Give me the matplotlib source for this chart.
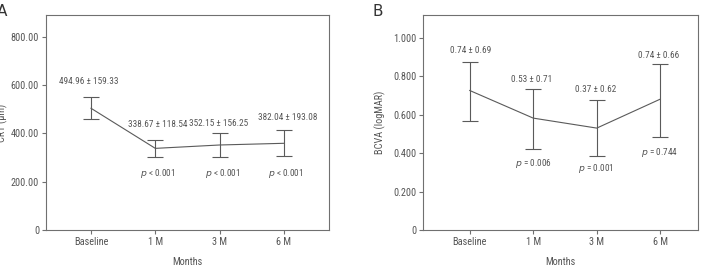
import numpy as np
import matplotlib
matplotlib.use("Agg")
import matplotlib.pyplot as plt
from matplotlib.ticker import FixedLocator, FixedFormatter

plt.rcParams['font.family'] = ['Liberation Sans Narrow', 'Roboto Condensed', 'DejaVu Sans']
plt.rcParams['mathtext.fontset'] = 'custom'
plt.rcParams['mathtext.it'] = 'Liberation Sans Narrow:italic'
plt.rcParams['mathtext.rm'] = 'Liberation Sans Narrow'

months = ['Baseline', '1 M', '3 M', '6 M']

# panel A - CRT
crt_mean = [504, 338, 352, 359]
crt_upper = [549, 372, 403, 413]
crt_lower = [458, 302, 302, 306]
crt_text = ['494.96 \u00b1 159.33', '338.67 \u00b1 118.54', '352.15 \u00b1 156.25', '382.04 \u00b1 193.08']
crt_p = ['', '< 0.001', '< 0.001', '< 0.001']

# panel B - BCVA
bcva_mean = [0.727, 0.583, 0.531, 0.682]
bcva_upper = [0.878, 0.736, 0.677, 0.866]
bcva_lower = [0.570, 0.423, 0.388, 0.487]
bcva_text = ['0.74 \u00b1 0.69', '0.53 \u00b1 0.71', '0.37 \u00b1 0.62', '0.74 \u00b1 0.66']
bcva_p = ['', '= 0.006', '= 0.001', '= 0.744']

GREY = '#5a5a5a'
TXT = '#555555'
FS = 7.4
FS_ANN = 6.7

fig = plt.figure(figsize=(7.11, 2.69), dpi=100)
axA = fig.add_axes([0.0647, 0.145, 0.398, 0.799])
axB = fig.add_axes([0.5954, 0.145, 0.386, 0.799])


def draw(ax, mean, upper, lower, xlim, ylim, ticks, ticklabels, ylabel, ylab_x,
         txt, txt_dx, txt_y, ptxt, p_dx, p_y):
    x = np.arange(len(months))
    mean = np.array(mean)
    yerr = [mean - np.array(lower), np.array(upper) - mean]
    ax.errorbar(x, mean, yerr=yerr, color=GREY, lw=0.8, elinewidth=0.8,
                capsize=5.8, capthick=0.8)
    ax.set_xlim(*xlim)
    ax.set_ylim(*ylim)
    ax.set_xticks(x)
    ax.set_xticklabels(months)
    ax.yaxis.set_major_locator(FixedLocator(ticks))
    ax.yaxis.set_major_formatter(FixedFormatter(ticklabels))
    for s in ax.spines.values():
        s.set_color('#707070')
        s.set_linewidth(0.8)
    ax.tick_params(colors='#707070', labelcolor=TXT, labelsize=FS, length=3, width=0.8, pad=2)
    ax.set_xlabel('Months', fontsize=FS, color=TXT, labelpad=7)
    ax.set_ylabel(ylabel, fontsize=FS, color=TXT)
    ax.yaxis.set_label_coords(ylab_x, 0.5)
    for i in range(len(months)):
        ax.text(x[i] + txt_dx[i], txt_y[i], txt[i], ha='center', va='center',
                fontsize=FS_ANN, color=TXT)
        if ptxt[i]:
            ax.text(x[i] + p_dx[i], p_y[i], r'$\it{p}$ ' + ptxt[i], ha='center',
                    va='center', fontsize=FS_ANN, color=TXT)


draw(axA, crt_mean, crt_upper, crt_lower, (-0.7, 3.7), (0, 890),
     [0, 200, 400, 600, 800], ['0', '200.00', '400.00', '600.00', '800.00'],
     'CRT (\u03bcm)', -0.135,
     crt_text, [-0.03, 0.03, -0.02, 0.06], [613, 435, 443, 464],
     crt_p, [0, 0.03, 0.05, 0.02], [0, 236, 236, 236])

draw(axB, bcva_mean, bcva_upper, bcva_lower, (-0.73, 3.59), (0, 1.12),
     [0, 0.2, 0.4, 0.6, 0.8, 1.0], ['0', '0.200', '0.400', '0.600', '0.800', '1.000'],
     'BCVA (logMAR)', -0.137,
     bcva_text, [0.02, -0.03, -0.02, -0.02], [0.935, 0.782, 0.734, 0.909],
     bcva_p, [0, 0.0, -0.02, -0.02], [0, 0.344, 0.320, 0.405])

fig.text(-0.004, 0.985, 'A', fontsize=11, color='#333333', va='top', ha='left',
         family='DejaVu Sans')
fig.text(0.524, 0.985, 'B', fontsize=11, color='#333333', va='top', ha='left',
         family='DejaVu Sans')

fig.savefig('out.png', dpi=100)
